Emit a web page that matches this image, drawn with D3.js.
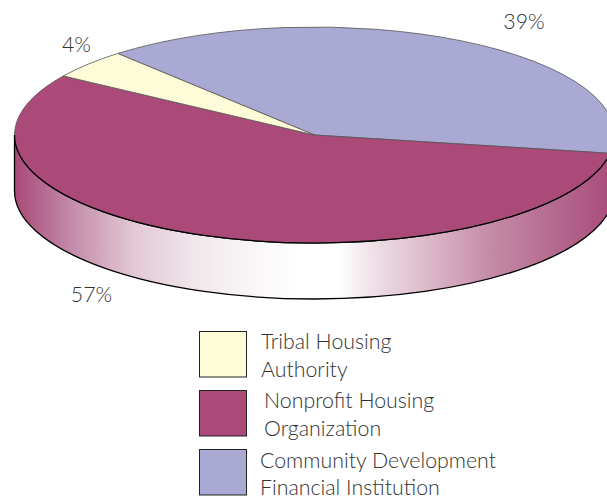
<!DOCTYPE html>
<html><head><meta charset="utf-8">
<script src="https://cdnjs.cloudflare.com/ajax/libs/d3/7.8.5/d3.min.js"></script>
<style>html,body{margin:0;padding:0;background:#fff;overflow:hidden}svg{display:block}
text{font-family:Lato,"Open Sans",sans-serif;font-weight:300;fill:#333}</style></head>
<body><svg id="c" width="607" height="499"></svg>
<script>
const categories = ["Community Development Financial Institution","Nonprofit Housing Organization","Tribal Housing Authority"];
const values = [39.1,56.5,4.4];
const colors = ["#aaa9d3","#ab4a78","#fefbd8"];
const pctLabels = ["39%","57%","4%"];
const legendOrder = [2,1,0];
const legendLines = {0:["Community Development","Financial Institution"],1:["Nonprofit Housing","Organization"],2:["Tribal Housing","Authority"]};
const shadeStops = [[0,"#a94a78"],[0.05,"#b56a92"],[0.1,"#c58fab"],[0.2,"#e3c8d5"],[0.3,"#f0e6eb"],[0.4,"#f9f6f8"],[0.47,"#ffffff"],[0.54,"#ffffff"],[0.6,"#eedfe6"],[0.7,"#d9b4c6"],[0.8,"#c488a4"],[0.9,"#b56a90"],[1,"#a94a78"]];

const svg = d3.select("#c");
const cx=314.5, cy=135, rx=300, ry=108, depth=56;
const toRad=d3.scaleLinear().domain([0,360]).range([0,2*Math.PI]);
const pie=d3.pie().sort(null).value(d=>d).startAngle(toRad(-41)).endAngle(toRad(319));
const arcs=pie(values);
const arc=d3.arc().innerRadius(0).outerRadius(rx);

const grad=svg.append("defs").append("linearGradient").attr("id","side").attr("gradientUnits","userSpaceOnUse")
  .attr("x1",cx-rx).attr("x2",cx+rx).attr("y1",0).attr("y2",0);
grad.selectAll("stop").data(shadeStops).join("stop").attr("offset",d=>d[0]).attr("stop-color",d=>d[1]);

// side wall
const sideD=`M${cx-rx},${cy}A${rx},${ry} 0 0 0 ${cx+rx},${cy}L${cx+rx},${cy+depth}A${rx},${ry} 0 0 1 ${cx-rx},${cy+depth}Z`;
svg.append("path").attr("d",sideD).attr("fill","url(#side)").attr("stroke","#000").attr("stroke-width",1.3);

// top face
const face=svg.append("g").attr("transform",`translate(${cx},${cy}) scale(1,${ry/rx})`);
face.selectAll("path").data(arcs).join("path").attr("d",arc).attr("fill",(d,i)=>colors[i])
  .attr("stroke","#555").attr("stroke-width",0.8).attr("vector-effect","non-scaling-stroke");
// front rim
svg.append("path").attr("d",`M${cx-rx},${cy}A${rx},${ry} 0 0 0 ${cx+rx},${cy}`).attr("fill","none").attr("stroke","#000").attr("stroke-width",1.2);

const fontSize=22, squeeze=0.97;
// percent labels
const labelPos=[[524,29],[91.5,302],[76.5,52]];
svg.selectAll("text.p").data(pctLabels).join("text").attr("class","p")
  .attr("transform",(d,i)=>`translate(${labelPos[i][0]},${labelPos[i][1]}) scale(${squeeze},1)`)
  .attr("text-anchor","middle").attr("font-size",fontSize).text(d=>d);

// legend
const boxY=d3.scalePoint().domain(legendOrder).range([331,449]);
const textX={2:261,1:264,0:260}, base={2:[349,377],1:[408,436],0:[468,495]};
const lg=svg.selectAll("g.l").data(legendOrder).join("g").attr("class","l");
lg.append("rect").attr("x",199.5).attr("y",k=>boxY(k)+0.5).attr("width",47).attr("height",45.5)
  .attr("fill",k=>colors[k]).attr("stroke","#222").attr("stroke-width",1);
lg.each(function(k){
  d3.select(this).selectAll("text.t").data(legendLines[k]).join("text").attr("class","t")
    .attr("transform",(d,j)=>`translate(${textX[k]},${base[k][j]}) scale(${squeeze},1)`)
    .attr("font-size",fontSize).text(d=>d);
});
</script></body></html>
